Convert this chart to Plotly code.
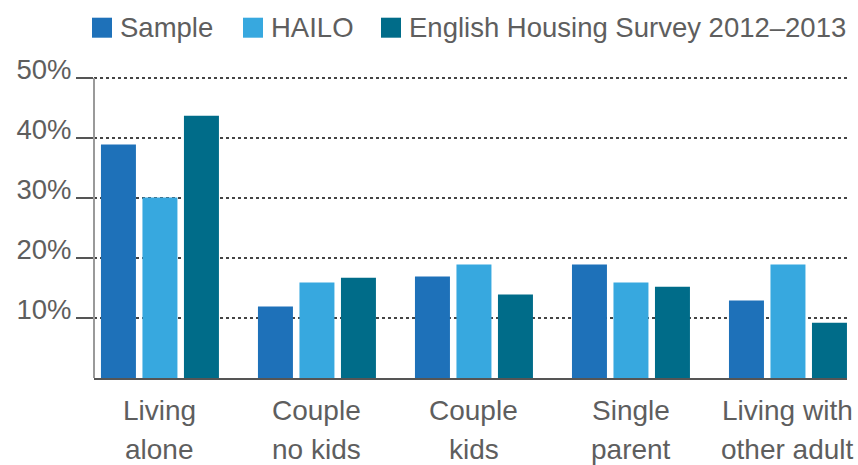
import plotly.graph_objects as go

categories = ["Living alone", "Couple no kids", "Couple kids", "Single parent", "Living with other adult"]
cat_lines = [("Living", "alone"), ("Couple", "no kids"), ("Couple", "kids"), ("Single", "parent"), ("Living with", "other adult")]
series_names = ["Sample", "HAILO", "English Housing Survey 2012–2013"]
sample = [38.9, 11.9, 16.9, 18.9, 12.9]
hailo = [30.1, 15.9, 18.9, 15.9, 18.9]
ehs = [43.7, 16.7, 13.9, 15.2, 9.2]
y_ticks = [10, 20, 30, 40, 50]
y_ticklabels = ["10%", "20%", "30%", "40%", "50%"]

colors = ["#1e71b9", "#37a8df", "#006c89"]
FONT = "Liberation Sans"
TXT = "#5e5e5e"

W, H = 858, 465
YMAX = 50.5
PX_PER_UNIT = 6.0
L, R, B = 94, 847, 378.3
T = B - PX_PER_UNIT * YMAX

def px_x(x):
    return (x - L) / (R - L)

def px_y(y):
    return (B - y) / (B - T)

fig = go.Figure()
for name, vals, c in zip(series_names, [sample, hailo, ehs], colors):
    fig.add_trace(go.Bar(x=categories, y=vals, name=name, marker=dict(color=c, line=dict(width=0)),
                         showlegend=False, hoverinfo="skip"))

fig.update_layout(
    width=W, height=H,
    margin=dict(l=L, r=W - R, t=T, b=H - B, pad=0),
    paper_bgcolor="white", plot_bgcolor="white",
    barmode="group", bargap=0.207, bargroupgap=0.157,
    font=dict(family=FONT, size=27.5, color=TXT),
)
fig.update_xaxes(
    type="category", range=[-0.42, 4.376], showticklabels=False, ticks="",
    showline=True, linecolor="#555555", linewidth=2, showgrid=False, zeroline=False,
)
fig.update_yaxes(
    range=[0, YMAX], tickvals=y_ticks, ticktext=y_ticklabels,
    ticks="outside", ticklen=17, tickwidth=2, tickcolor="#555555",
    showline=False,
    showgrid=True, gridcolor="#444444", gridwidth=1.5, griddash="dot",
    zeroline=False, ticklabelshift=-9, ticklabelstandoff=-1,
    tickfont=dict(family=FONT, size=27.5, color=TXT),
)

# y axis line (stops at the 50% tick, drawn in data coordinates)
fig.add_shape(type="line", xref="paper", yref="y", x0=0, x1=0, y0=0, y1=y_ticks[-1],
              line=dict(color="#9a9a9a", width=2), layer="above")

# category labels (two lines each)
for cat, (l1, l2) in zip(categories, cat_lines):
    fig.add_annotation(x=cat, y=0, xref="x", yref="y", text=l1, showarrow=False,
                       yanchor="middle", yshift=-32, font=dict(family=FONT, size=28, color=TXT))
    fig.add_annotation(x=cat, y=0, xref="x", yref="y", text=l2, showarrow=False,
                       yanchor="middle", yshift=-71, font=dict(family=FONT, size=28, color=TXT))

# custom legend
leg_x = [92, 243, 381]
for name, c, x0 in zip(series_names, colors, leg_x):
    fig.add_shape(type="rect", xref="paper", yref="paper",
                  x0=px_x(x0), x1=px_x(x0 + 20), y0=px_y(38), y1=px_y(18),
                  fillcolor=c, line=dict(width=0))
    fig.add_annotation(xref="paper", yref="paper", x=px_x(x0 + 26), y=px_y(28),
                       text=name, showarrow=False, xanchor="left", yanchor="middle",
                       font=dict(family=FONT, size=27.5, color=TXT))

fig.write_html("out.html", config={"displayModeBar": False},
               post_script="document.body.style.margin='0px';document.body.style.overflow='hidden';")
